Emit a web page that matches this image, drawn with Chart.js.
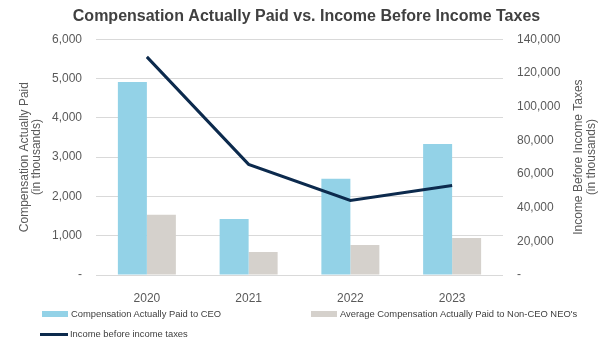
<!DOCTYPE html>
<html>
<head>
<meta charset="utf-8">
<script src="https://cdn.jsdelivr.net/npm/chart.js@4"></script>
<style>
  body { margin: 0; background: #fff; font-family: 'Liberation Sans', Arial, sans-serif; }
  #wrap { position: relative; width: 613px; height: 346px; }
  .leg { position: absolute; font-size: 9.4px; color: #404040; white-space: nowrap; line-height: 12px; }
  .sw { position: absolute; }
</style>
</head>
<body>
<div id="wrap">
  <canvas id="chart" width="613" height="346"></canvas>
  <div id="legend"></div>
</div>
<script>
const years = ['2020', '2021', '2022', '2023'];
const ceoPay = [4910, 1425, 2450, 3333];
const neoPay = [1534, 585, 763, 941];
const incomeBeforeTax = [129500, 65700, 44300, 53200];
const leftTicks = [0, 1000, 2000, 3000, 4000, 5000, 6000];
const rightTicks = [0, 20000, 40000, 60000, 80000, 100000, 120000, 140000];

const tickColor = '#595959';
const font = { family: "'Liberation Sans', Arial, sans-serif", size: 12 };

function fmt(v) {
  return v === 0 ? '-' : v.toLocaleString('en-US');
}

const datasets = [
  {
    type: 'line',
    label: 'Income before income taxes',
    data: incomeBeforeTax,
    yAxisID: 'y2',
    borderColor: '#0c2a4d',
    borderWidth: 3,
    pointRadius: 0,
    tension: 0,
    order: 0
  },
  {
    type: 'bar',
    label: 'Compensation Actually Paid to CEO',
    data: ceoPay,
    yAxisID: 'y',
    backgroundColor: '#93d2e7',
    categoryPercentage: 0.57,
    barPercentage: 1.0,
    order: 1
  },
  {
    type: 'bar',
    label: "Average Compensation Actually Paid to Non-CEO NEO's",
    data: neoPay,
    yAxisID: 'y',
    backgroundColor: '#d5d1cc',
    categoryPercentage: 0.57,
    barPercentage: 1.0,
    order: 1
  }
];

// right axis title reads bottom-to-top, same as the left one
const rightTitle = {
  id: 'rightTitle',
  afterDraw(chart) {
    const ctx = chart.ctx;
    const area = chart.chartArea;
    ctx.save();
    ctx.translate(585, (area.top + area.bottom) / 2);
    ctx.rotate(-Math.PI / 2);
    ctx.fillStyle = tickColor;
    ctx.font = `12px ${font.family}`;
    ctx.textAlign = 'center';
    ctx.textBaseline = 'middle';
    ctx.fillText('Income Before Income Taxes', 0, -6.5);
    ctx.fillText('(in thousands)', 0, 6.5);
    ctx.restore();
  }
};

const chart = new Chart(document.getElementById('chart'), {
  data: { labels: years, datasets: datasets },
  plugins: [rightTitle],
  options: {
    responsive: false,
    animation: false,
    layout: { padding: { top: 0, left: 0, right: 0, bottom: 40 } },
    plugins: {
      legend: { display: false },
      tooltip: { enabled: false },
      title: {
        display: true,
        text: 'Compensation Actually Paid vs. Income Before Income Taxes',
        color: '#404040',
        font: { family: font.family, size: 16, weight: 'bold' },
        padding: { top: 7, bottom: 13 }
      }
    },
    scales: {
      x: {
        grid: { display: false },
        border: { display: false },
        ticks: { color: tickColor, font: font, padding: 8 },
        afterFit: function(s) { s.height = 31; }
      },
      y: {
        position: 'left',
        min: 0,
        max: 6000,
        afterBuildTicks: function(s) { s.ticks = leftTicks.map(v => ({ value: v })); },
        ticks: { color: tickColor, font: font, padding: 14, callback: fmt },
        grid: { color: '#d9d9d9', drawTicks: false },
        border: { display: false },
        title: {
          display: true,
          text: ['Compensation Actually Paid', '(in thousands)'],
          color: tickColor,
          font: { family: font.family, size: 12, lineHeight: 1.05 },
          padding: { top: 18, bottom: 0 }
        },
        afterFit: function(s) { s.width = 96; }
      },
      y2: {
        position: 'right',
        min: 0,
        max: 140000,
        afterBuildTicks: function(s) { s.ticks = rightTicks.map(v => ({ value: v })); },
        ticks: { color: tickColor, font: font, padding: 14, callback: fmt },
        grid: { display: false, drawTicks: false },
        border: { display: false },
        afterFit: function(s) { s.width = 110; }
      }
    }
  }
});

// legend laid out in two columns like the original
const legendItems = [
  { ds: 1, x: 42, y: 308, kind: 'box' },
  { ds: 2, x: 311, y: 308, kind: 'box' },
  { ds: 0, x: 40, y: 328, kind: 'line' }
];
const legend = document.getElementById('legend');
legendItems.forEach(function(it) {
  const ds = datasets[it.ds];
  const sw = document.createElement('div');
  sw.className = 'sw';
  if (it.kind === 'box') {
    sw.style.cssText = `left:${it.x}px;top:${it.y + 3}px;width:26px;height:6px;background:${ds.backgroundColor};`;
  } else {
    sw.style.cssText = `left:${it.x}px;top:${it.y + 5}px;width:28px;height:3px;background:${ds.borderColor};`;
  }
  legend.appendChild(sw);
  const t = document.createElement('div');
  t.className = 'leg';
  t.style.left = (it.x + (it.kind === 'box' ? 29 : 30)) + 'px';
  t.style.top = it.y + 'px';
  t.textContent = ds.label;
  legend.appendChild(t);
});
</script>
</body>
</html>
